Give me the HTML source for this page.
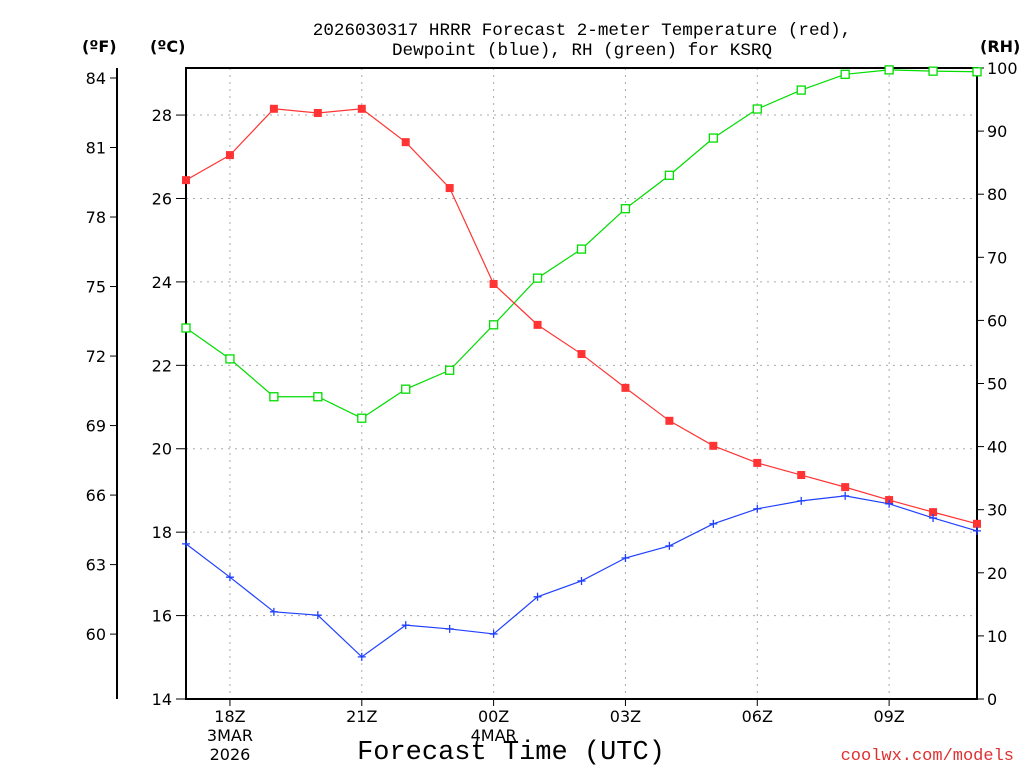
<!DOCTYPE html>
<html><head><meta charset="utf-8"><style>
body{margin:0;background:#fff;}
svg text{font-family:"DejaVu Sans","Liberation Sans",sans-serif;}
svg text.mono{font-family:"Liberation Mono","DejaVu Sans Mono",monospace;}
</style></head><body>
<svg id="c" width="1024" height="768" viewBox="0 0 1024 768">
<text class="mono" x="582" y="35" font-size="17.6" text-anchor="middle">2026030317 HRRR Forecast 2-meter Temperature (red),</text>
<text class="mono" x="582" y="55" font-size="17.6" text-anchor="middle">Dewpoint (blue), RH (green) for KSRQ</text>
<text x="82" y="52" font-size="16" font-weight="bold">(ºF)</text>
<text x="150" y="52" font-size="16" font-weight="bold">(ºC)</text>
<text x="980" y="52" font-size="16" font-weight="bold">(RH)</text>
<text class="mono" x="511" y="759" font-size="27" text-anchor="middle">Forecast Time (UTC)</text>
<text class="mono" x="1014" y="760" font-size="17" fill="#e03030" text-anchor="end">coolwx.com/models</text>
<g id="grid"></g><g id="axes"></g><g id="series"></g>
</svg>
<script>
const hours=[17,18,19,20,21,22,23,0,1,2,3,4,5,6,7,8,9,10,11];
const tempC=[26.44,27.04,28.15,28.05,28.15,27.35,26.25,23.95,22.97,22.27,21.46,20.67,20.07,19.66,19.37,19.08,18.77,18.48,18.20];
const dewC=[17.72,16.92,16.09,16.01,15.01,15.77,15.68,15.56,16.45,16.83,17.38,17.67,18.20,18.56,18.75,18.87,18.68,18.34,18.03];
const rh=[58.8,53.9,47.9,47.9,44.5,49.1,52.1,59.3,66.7,71.3,77.7,83.0,88.9,93.5,96.5,99.0,99.7,99.5,99.4];
const cTicks=[14,16,18,20,22,24,26,28];
const fTicks=[60,63,66,69,72,75,78,81,84];
const rhTicks=[0,10,20,30,40,50,60,70,80,90,100];
const xTickIdx=[1,4,7,10,13,16];
const xTickLabels=["18Z","21Z","00Z","03Z","06Z","09Z"];
const L=186,R=977,T=68,B=699;
const NS="http://www.w3.org/2000/svg";
const xs=i=>L+(R-L)*i/(hours.length-1);
const yc=c=>B-(c-14)*41.71;
const yf=f=>yc((f-32)*5/9);
const yr=v=>B-(B-T)*v/100;
function mk(tag,attrs,parent,text){const e=document.createElementNS(NS,tag);for(const k in attrs)e.setAttribute(k,attrs[k]);if(text!==undefined)e.textContent=text;document.getElementById(parent).appendChild(e);return e;}
cTicks.forEach(c=>{if(c>14){const g=mk('line',{x1:L,x2:R,y1:yc(c),y2:yc(c),stroke:'#aaa','stroke-dasharray':'2,5'},'grid');

}});
xTickIdx.forEach(i=>{const g=mk('line',{x1:xs(i),x2:xs(i),y1:T,y2:B,stroke:'#aaa','stroke-dasharray':'2,5'},'grid');

});
const f=mk('rect',{x:L,y:T,width:R-L,height:B-T,fill:'none',stroke:'#000','stroke-width':2},'axes');


const fl=mk('line',{x1:117,x2:117,y1:T,y2:B,stroke:'#000','stroke-width':2},'axes');


cTicks.forEach(c=>{mk('line',{x1:L-10,x2:L,y1:yc(c),y2:yc(c),stroke:'#000'},'axes');
const t=mk('text',{x:L-14,y:yc(c)+6,'font-size':16,'text-anchor':'end'},'axes',c);

});
fTicks.forEach(v=>{mk('line',{x1:110,x2:117,y1:yf(v),y2:yf(v),stroke:'#000'},'axes');
const t=mk('text',{x:106,y:yf(v)+6,'font-size':16,'text-anchor':'end'},'axes',v);

});
rhTicks.forEach(v=>{mk('line',{x1:R,x2:R+7,y1:yr(v),y2:yr(v),stroke:'#000'},'axes');
const t=mk('text',{x:R+10,y:yr(v)+6,'font-size':16},'axes',v);

});
xTickIdx.forEach((i,k)=>{mk('line',{x1:xs(i),x2:xs(i),y1:B,y2:B+7,stroke:'#000'},'axes');
const t=mk('text',{x:xs(i),y:B+23,'font-size':16,'text-anchor':'middle'},'axes',xTickLabels[k]);

});
[["3MAR",1,741],["2026",1,760],["4MAR",7,741]].forEach(a=>{const t=mk('text',{x:xs(a[1]),y:a[2],'font-size':16,'text-anchor':'middle'},'axes',a[0]);

});
function series(vals,yfn,color,marker,name){
const pts=vals.map((v,i)=>xs(i)+','+yfn(v)).join(' ');
const pl=mk('polyline',{points:pts,fill:'none',stroke:color,'stroke-width':1.2},'series');


vals.forEach((v,i)=>{const x=xs(i),y=yfn(v);let m;
if(marker==='fill')m=mk('rect',{x:x-4,y:y-4,width:8,height:8,fill:color},'series');
else if(marker==='open')m=mk('rect',{x:x-4,y:y-4,width:8,height:8,fill:'#fff',stroke:color,'stroke-width':1.3},'series');
else m=mk('path',{d:`M${x-4},${y}H${x+4}M${x},${y-4}V${y+4}`,stroke:color,'stroke-width':1.3},'series');

});}
series(rh,yr,'#00dd00','open','rh');
series(tempC,yc,'#ff3333','fill','temperature');
series(dewC,yc,'#2040ff','plus','dewpoint');
</script>
</body></html>
